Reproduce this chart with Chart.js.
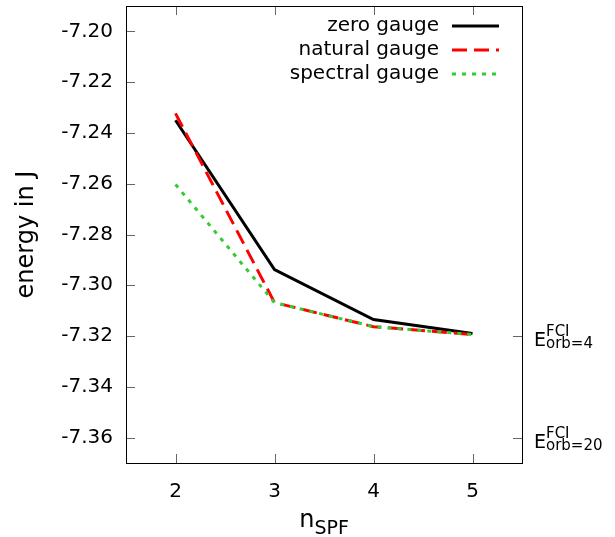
<!DOCTYPE html>
<html>
<head>
<meta charset="utf-8">
<script src="https://cdn.jsdelivr.net/npm/chart.js@4.4.0/dist/chart.umd.min.js"></script>
<style>
  html, body { margin: 0; padding: 0; background: #fff; }
  #wrap { width: 615px; height: 537px; }
</style>
</head>
<body>
<div id="wrap"><canvas id="chart"></canvas></div>
<script>
// data
const nSpf = [2, 3, 4, 5];
const zeroGauge = [-7.2350, -7.2938, -7.3135, -7.3190];
const naturalGauge = [-7.2323, -7.3068, -7.3163, -7.3194];
const spectralGauge = [-7.2603, -7.3068, -7.3163, -7.3194];
const yTicks = [-7.20, -7.22, -7.24, -7.26, -7.28, -7.30, -7.32, -7.34, -7.36];
const refValues = [-7.32, -7.36];
const refLabels = [['FCI', 'orb=4'], ['FCI', 'orb=20']];

const FONT = 'DejaVu Sans';
const tickGrey = '#666';

const pts = (ys) => nSpf.map((x, i) => ({ x: x, y: ys[i] }));

// no extra room for half-labels at the ends
const noPad = (s) => { s.paddingTop = 0; s.paddingBottom = 0; s.paddingLeft = 0; s.paddingRight = 0; };

// gnuplot style: inward ticks, legend inside, sub/superscript labels
const gnuplotLook = {
  id: 'gnuplotLook',
  afterDraw(chart) {
    const ctx = chart.ctx;
    const a = chart.chartArea;
    const xs = chart.scales.x, ys = chart.scales.y;
    ctx.save();
    ctx.strokeStyle = tickGrey;
    ctx.lineWidth = 1;
    ctx.beginPath();
    yTicks.forEach(v => {
      const py = Math.round(ys.getPixelForValue(v)) + 0.5;
      ctx.moveTo(a.left, py); ctx.lineTo(a.left + 9, py);
    });
    refValues.forEach(v => {
      const py = Math.round(ys.getPixelForValue(v)) + 0.5;
      ctx.moveTo(a.right, py); ctx.lineTo(a.right - 9, py);
    });
    nSpf.forEach(v => {
      const px = Math.round(xs.getPixelForValue(v)) + 0.5;
      ctx.moveTo(px, a.bottom); ctx.lineTo(px, a.bottom - 9);
      ctx.moveTo(px, a.top); ctx.lineTo(px, a.top + 9);
    });
    ctx.stroke();

    // frame
    ctx.strokeStyle = '#000';
    ctx.strokeRect(a.left + 0.5, a.top + 0.5, a.right - a.left, a.bottom - a.top);

    // right-hand reference labels
    ctx.fillStyle = '#000';
    ctx.textBaseline = 'alphabetic';
    ctx.textAlign = 'left';
    refValues.forEach((v, i) => {
      const py = ys.getPixelForValue(v);
      const x0 = a.right + 12;
      ctx.font = '19px ' + FONT;
      ctx.fillText('E', x0, py + 10);
      const w = ctx.measureText('E').width;
      ctx.font = '15px ' + FONT;
      ctx.fillText(refLabels[i][0], x0 + w, py);
      ctx.fillText(refLabels[i][1], x0 + w, py + 12);
    });

    // y title
    ctx.font = '24px ' + FONT;
    ctx.textAlign = 'center';
    ctx.textBaseline = 'middle';
    ctx.save();
    ctx.translate(27, (a.top + a.bottom) / 2);
    ctx.rotate(-Math.PI / 2);
    ctx.fillText('energy in J', 0, 0);
    ctx.restore();

    // x title n_SPF
    ctx.textAlign = 'left';
    ctx.textBaseline = 'alphabetic';
    ctx.font = '24px ' + FONT;
    const nW = ctx.measureText('n').width;
    ctx.font = '19px ' + FONT;
    const sW = ctx.measureText('SPF').width;
    const cx = (a.left + a.right) / 2;
    const start = cx - (nW + sW) / 2;
    ctx.font = '24px ' + FONT;
    ctx.fillText('n', start, 527);
    ctx.font = '19px ' + FONT;
    ctx.fillText('SPF', start + nW, 534);

    // legend
    ctx.font = '20px ' + FONT;
    ctx.textAlign = 'right';
    ctx.textBaseline = 'middle';
    chart.data.datasets.forEach((ds, i) => {
      const ly = 26 + i * 24;
      ctx.fillStyle = '#000';
      ctx.fillText(ds.label, 439, ly);
      ctx.strokeStyle = ds.borderColor;
      ctx.lineWidth = ds.borderWidth;
      ctx.setLineDash(ds.borderDash || []);
      ctx.beginPath();
      ctx.moveTo(452, ly); ctx.lineTo(499, ly);
      ctx.stroke();
    });
    ctx.restore();
  }
};

new Chart(document.getElementById('chart'), {
  type: 'line',
  data: {
    datasets: [
      { label: 'zero gauge', data: pts(zeroGauge), borderColor: '#000000', borderWidth: 3, order: 2 },
      { label: 'natural gauge', data: pts(naturalGauge), borderColor: '#ff0000', borderWidth: 3, borderDash: [15, 7], order: 1 },
      { label: 'spectral gauge', data: pts(spectralGauge), borderColor: '#33cc33', borderWidth: 3, borderDash: [4, 6], order: 0 }
    ]
  },
  options: {
    responsive: true,
    maintainAspectRatio: false,
    animation: false,
    events: [],
    layout: { padding: { top: 6, left: 0, right: 0, bottom: 0 } },
    elements: { point: { radius: 0 }, line: { tension: 0, fill: false } },
    plugins: { legend: { display: false }, tooltip: { enabled: false } },
    scales: {
      x: {
        type: 'linear',
        min: 1.5,
        max: 5.5,
        afterBuildTicks: (s) => { s.ticks = nSpf.map(v => ({ value: v })); },
        afterFit: (s) => { s.height = 74; noPad(s); },
        grid: { display: false, drawTicks: false },
        border: { display: false },
        ticks: { font: { family: FONT, size: 20 }, color: '#000', padding: 17, callback: (v) => v }
      },
      y: {
        min: -7.37,
        max: -7.19,
        afterBuildTicks: (s) => { s.ticks = yTicks.map(v => ({ value: v })); },
        afterFit: (s) => { s.width = 126; noPad(s); },
        grid: { display: false, drawTicks: false },
        border: { display: false },
        ticks: { font: { family: FONT, size: 20 }, color: '#000', padding: 13, callback: (v) => v.toFixed(2) }
      },
      y2: {
        position: 'right',
        min: -7.37,
        max: -7.19,
        afterFit: (s) => { s.width = 93; noPad(s); },
        grid: { display: false, drawTicks: false },
        border: { display: false },
        ticks: { display: false }
      }
    }
  },
  plugins: [gnuplotLook]
});
</script>
</body>
</html>
